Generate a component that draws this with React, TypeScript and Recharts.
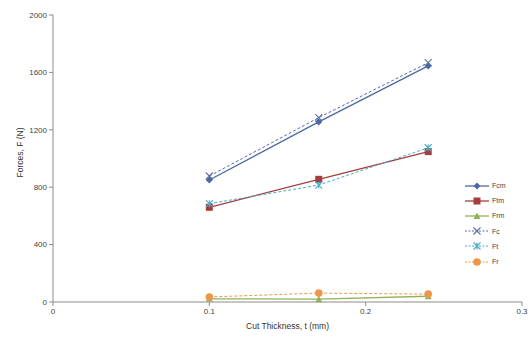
import { LineChart, Line, XAxis, YAxis, Legend } from 'recharts';

const thickness = [0.1, 0.17, 0.24];
const fcm = [850, 1255, 1645];
const ftm = [660, 855, 1048];
const frm = [22, 20, 40];
const fc = [878, 1285, 1668];
const ft = [685, 815, 1075];
const fr = [35, 62, 55];

const xTicks = [0, 0.1, 0.2, 0.3];
const yTicks = [0, 400, 800, 1200, 1600, 2000];

const data = thickness.map((t, i) => ({
  t,
  Fcm: fcm[i],
  Ftm: ftm[i],
  Frm: frm[i],
  Fc: fc[i],
  Ft: ft[i],
  Fr: fr[i],
}));

type Shape = 'diamond' | 'square' | 'triangle' | 'x' | 'star' | 'circle';

const series: { key: string; color: string; shape: Shape; dashed: boolean }[] = [
  { key: 'Fcm', color: '#4a6aa5', shape: 'diamond', dashed: false },
  { key: 'Ftm', color: '#a63c3e', shape: 'square', dashed: false },
  { key: 'Frm', color: '#8fb35a', shape: 'triangle', dashed: false },
  { key: 'Fc', color: '#5d6e9e', shape: 'x', dashed: true },
  { key: 'Ft', color: '#4bacc6', shape: 'star', dashed: true },
  { key: 'Fr', color: '#f0954a', shape: 'circle', dashed: true },
];

function Marker({ x, y, shape, color }: { x: number; y: number; shape: Shape; color: string }) {
  switch (shape) {
    case 'diamond':
      return <path d={`M${x},${y - 3.5}L${x + 3.5},${y}L${x},${y + 3.5}L${x - 3.5},${y}Z`} fill={color} />;
    case 'square':
      return <rect x={x - 3.5} y={y - 3.5} width={7} height={7} fill={color} />;
    case 'triangle':
      return <path d={`M${x},${y - 3.5}L${x + 3.5},${y + 3}L${x - 3.5},${y + 3}Z`} fill={color} />;
    case 'x':
      return (
        <path d={`M${x - 3.5},${y - 3.5}L${x + 3.5},${y + 3.5}M${x + 3.5},${y - 3.5}L${x - 3.5},${y + 3.5}`} stroke={color} strokeWidth={1.1} />
      );
    case 'star':
      return (
        <path
          d={`M${x - 3.5},${y - 3.5}L${x + 3.5},${y + 3.5}M${x + 3.5},${y - 3.5}L${x - 3.5},${y + 3.5}M${x},${y - 3.5}L${x},${y + 3.5}`}
          stroke={color}
          strokeWidth={1.1}
        />
      );
    default:
      return <circle cx={x} cy={y} r={3.8} fill={color} />;
  }
}

const makeDot = (shape: Shape, color: string) => (props: any) => (
  <g key={`${shape}-${props.index}`}>
    <Marker x={props.cx} y={props.cy} shape={shape} color={color} />
  </g>
);

function LegendContent() {
  return (
    <div style={{ fontFamily: 'Liberation Sans, Arial, sans-serif', fontSize: 7, color: '#444' }}>
      {series.map((s) => (
        <div key={s.key} style={{ display: 'flex', alignItems: 'center', height: 15.2 }}>
          <svg width={26} height={10}>
            <line
              x1={1}
              y1={5}
              x2={25}
              y2={5}
              stroke={s.color}
              strokeWidth={s.dashed ? 1 : 1.3}
              strokeDasharray={s.dashed ? '2 1.5' : undefined}
            />
            <Marker x={13} y={5} shape={s.shape} color={s.color} />
          </svg>
          <span style={{ marginLeft: 2 }}>{s.key}</span>
        </div>
      ))}
    </div>
  );
}

export default function App() {
  const tickStyle = { fontSize: 8, fill: '#444', fontFamily: 'Liberation Sans, Arial, sans-serif' };
  return (
    <div style={{ position: 'absolute', left: 0, top: 0, background: '#fff' }}>
      <LineChart width={530} height={343} data={data} margin={{ top: 15, right: 8, left: 0, bottom: 0 }}>
        <XAxis
          dataKey="t"
          type="number"
          domain={[0, 0.3]}
          ticks={xTicks}
          tickFormatter={(v: number) => String(v)}
          stroke="#8c8c8c"
          tick={tickStyle}
          tickSize={4}
          height={41}
          label={{
            value: 'Cut Thickness, t (mm)',
            position: 'insideBottom',
            offset: 14,
            style: { fontSize: 8.5, fill: '#333', fontFamily: 'Liberation Sans, Arial, sans-serif' },
          }}
        />
        <YAxis
          type="number"
          domain={[0, 2000]}
          ticks={yTicks}
          stroke="#8c8c8c"
          tick={tickStyle}
          tickSize={4}
          width={53}
          label={{
            value: 'Forces, F (N)',
            angle: -90,
            position: 'insideLeft',
            offset: 20,
            dy: -6,
            style: { fontSize: 8.5, fill: '#333', fontFamily: 'Liberation Sans, Arial, sans-serif', textAnchor: 'middle' },
          }}
        />
        <Legend
          layout="vertical"
          align="center"
          verticalAlign="middle"
          wrapperStyle={{ left: 464, top: 178, width: 60 }}
          content={<LegendContent />}
        />
        {series.map((s) => (
          <Line
            key={s.key}
            dataKey={s.key}
            stroke={s.color}
            strokeWidth={s.dashed ? 1 : 1.3}
            strokeDasharray={s.dashed ? '3 2' : undefined}
            dot={makeDot(s.shape, s.color)}
            activeDot={false}
            isAnimationActive={false}
          />
        ))}
      </LineChart>
    </div>
  );
}
